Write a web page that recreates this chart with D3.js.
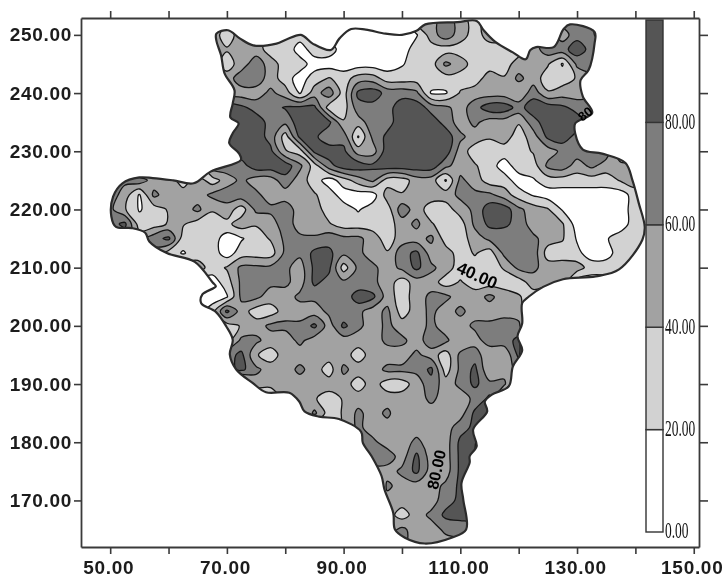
<!DOCTYPE html>
<html>
<head>
<meta charset="utf-8">
<script src="https://cdnjs.cloudflare.com/ajax/libs/d3/7.8.5/d3.min.js"></script>
<style>
  html, body { margin: 0; padding: 0; background: #fff; }
  svg { display: block; filter: blur(0.55px); }
</style>
</head>
<body>
<svg id="viz" width="724" height="577"></svg>
<script>
// tick labels and legend
const xTicks = [50, 60, 70, 80, 90, 100, 110, 120, 130, 140, 150]
const xLabels = [50, 70, 90, 110, 130, 150]
const yTicks = [170, 180, 190, 200, 210, 220, 230, 240, 250]
const levels = [20, 40, 60, 80]
const levelFill = ['#d2d2d2', '#a2a2a2', '#7d7d7d', '#555555']
const legendLevels = [0, 20, 40, 60, 80]
const legendTop = 100
const legendFill = ['#ffffff', '#d2d2d2', '#a2a2a2', '#7d7d7d', '#555555']

// grid origin, every 2.5 units
const gridX0 = 50, gridY0 = 252.5, gridStep = 2.5

// catchment outline, [x, y]
const outline = [
  [68.2,250.2],[70.2,250.8],[72.2,249.4],[74.5,248.2],[78.5,248.5],[80.2,249.2],[82.7,250],[84.7,248.5],[87.8,247.4],
  [89.3,249.4],[91.3,251],[93.8,250.9],[97.2,250.2],[100,250],[102.5,250.7],[104,251.8],[109.5,252.2],[112.8,252.4],
  [114,250.8],[116,248.8],[119,247],[121.2,245.8],[122,247.4],[123,247.9],[126,247.9],[127.7,251],[128.8,251.8],
  [133,250.5],[133,248.5],[132,244],[130.6,242.2],[131,239.4],[132.6,236.6],[129.7,234.8],[129.7,233],[131,230.3],
  [134.3,229.6],[138.3,228],[139.5,225],[140.6,221],[141.6,217],[141.2,214.8],[137.2,209.7],[133.2,208.5],[127.6,208],
  [124.2,206.7],[121.7,205],[120.6,203.9],[120.6,200.4],[119.8,198.2],[120.6,195.8],[119,193],[118.3,189.6],[115.4,188.2],
  [114.2,187],[114.6,185.3],[112.2,182.2],[112.8,179.3],[111.6,177.6],[111.6,176.5],[110.2,173],[110.5,170.2],[111,165],
  [108.5,163.6],[103.9,162.6],[100.5,163.6],[98.8,165],[98.5,167.9],[97,171.9],[96.5,174.2],[94.8,177.6],[93.3,179.9],
  [93,181.8],[89.2,184],[85.8,184.4],[83.3,185.3],[82.4,187],[80.7,188.5],[76.7,188.6],[74.4,190.2],[71.6,192.5],
  [70.5,195.1],[71,197.6],[69.9,199.9],[68.1,202.4],[65.6,203.9],[65.8,205.4],[68.1,206.8],[67.6,207.4],[64.5,211],
  [59.7,212.5],[56.7,214.5],[56,216],[53.7,216.8],[51,217],[50.2,218.8],[50.5,222.2],[52.1,224.5],[55,225.5],[57.3,225.4],
  [60.8,225],[64.3,224.5],[67.2,226.5],[72.4,228.5],[72.1,229.6],[70.4,231.4],[71,233.1],[72,234.8],[70.6,235.8],
  [71,238.2],[71.3,240.5],[69.6,243.4],[69,246.5],[68.2,249]
]

// estimated value at each grid node, one row per y from 252.5 down to 162.5
const surface = [
  [10,10,10,10,10,10,10,50,50,50, 50,50,30,30,30,30,10,10,10,10, 10,50,50,72,50,30,50,10,10,10, 72,72,72,72,10,10,10,10],
  [10,10,10,10,10,10,10,50,30,50, 50,30,30,30,30,10,10,10,10,10, 10,18,50,72,50,30,50,50,50,50, 72,50,72,72,10,10,10,10],
  [10,10,10,10,10,10,10,50,42,50, 50,30,35,10,30,30,10,10,10,10, 10,30,30,30,30,30,30,30,30,50, 72,72,92,72,72,10,10,10],
  [10,10,10,10,10,10,10,50,30,50, 72,50,30,30,10,10,10,10,10,10, 18,30,30,65,50,30,30,30,50,50, 42,18,65,72,10,10,10,10],
  [10,10,10,10,10,10,10,50,50,72, 72,50,30,10,30,42,30,50,50,30, 30,30,30,30,30,30,50,42,65,50, 30,30,42,50,10,10,10,10],
  [10,10,10,10,10,10,10,10,50,50, 50,65,50,18,50,72,30,85,92,72, 72,65,18,18,42,50,50,50,42,72, 42,50,50,50,10,10,10,10],
  [10,10,10,10,10,10,10,92,92,85, 72,72,82,85,85,30,30,72,72,72, 92,92,72,65,50,72,92,92,72,92, 92,85,72,72,10,10,10,10],
  [10,10,10,10,10,10,10,92,92,92, 92,72,65,92,92,85,42,50,72,72, 92,92,92,72,50,65,50,50,42,72, 92,92,92,72,10,10,10,10],
  [10,10,10,10,10,10,10,92,92,92, 92,72,30,85,85,65,72,18,65,85, 92,85,92,92,65,50,42,50,30,50, 85,92,72,72,10,10,10,10],
  [10,10,10,10,10,10,10,10,92,92, 85,85,42,30,85,92,85,50,50,92, 92,92,92,92,50,30,30,30,30,42, 50,65,72,72,72,10,10,10],
  [10,10,10,10,10,10,10,72,72,72, 92,92,92,65,30,72,92,92,85,92, 92,92,92,65,50,42,30,10,30,30, 65,72,50,65,50,50,50,10],
  [72,65,72,50,50,30,50,30,50,65, 50,50,72,50,30,10,30,50,65,30, 30,50,50,18,65,50,30,30,10,18, 30,30,30,30,30,42,50,30],
  [72,50,18,65,50,50,50,65,72,72, 65,50,50,50,42,30,10,10,10,50, 42,50,50,50,65,65,65,50,30,18, 10,10,10,10,10,10,30,30],
  [65,42,18,30,42,50,65,42,50,30, 65,65,72,50,50,30,30,18,30,30, 72,50,30,30,50,65,92,92,65,50, 42,18,10,10,10,10,30,30],
  [72,85,30,30,42,42,30,30,35,50, 42,50,72,50,42,42,30,30,30,30, 50,65,42,30,30,65,85,85,72,50, 50,42,10,10,10,10,30,30],
  [65,65,50,72,85,30,30,30,10,18, 30,42,65,65,65,72,65,65,50,30, 50,50,65,30,30,50,65,65,72,65, 50,42,18,10,18,30,30,30],
  [10,10,10,50,30,18,30,30,10,30, 30,30,65,65,85,85,65,65,50,42, 72,85,50,50,30,42,30,65,72,72, 30,30,25,10,12,30,30,30],
  [10,10,10,10,30,50,50,30,42,65, 65,65,65,50,85,85,30,65,65,50, 65,85,65,50,30,30,30,42,65,65, 50,50,50,30,30,30,30,10],
  [10,10,10,10,10,10,10,10,30,65, 65,65,65,50,85,72,65,65,65,50, 30,50,50,30,42,30,30,30,30,50, 50,50,10,10,10,10,10,10],
  [10,10,10,10,10,10,10,10,18,65, 65,50,50,65,65,65,65,92,85,50, 30,50,65,65,50,50,65,50,42,30, 10,10,10,10,10,10,10,10],
  [10,10,10,10,10,10,10,30,85,50, 30,30,50,50,50,65,65,65,50,65, 30,50,65,50,65,50,50,50,50,10, 10,10,10,10,10,10,10,10],
  [10,10,10,10,10,10,10,10,30,42, 50,65,65,65,85,50,85,65,50,65, 50,50,65,50,50,65,65,72,65,10, 10,10,10,10,10,10,10,10],
  [10,10,10,10,10,10,10,10,30,65, 65,50,50,65,50,50,50,50,50,65, 65,50,72,65,42,50,72,72,85,10, 10,10,10,10,10,10,10,10],
  [10,10,10,10,10,10,10,10,72,85, 42,30,50,50,50,50,50,30,50,50, 50,65,50,30,65,72,42,42,85,10, 10,10,10,10,10,10,10,10],
  [10,10,10,10,10,10,10,10,72,85, 65,50,50,65,50,30,65,50,50,65, 65,65,85,30,65,85,42,50,65,10, 10,10,10,10,10,10,10,10],
  [10,10,10,10,10,10,10,10,10,10, 50,50,42,50,50,50,50,30,50,30, 30,50,72,50,65,85,65,65,10,10, 10,10,10,10,10,10,10,10],
  [10,10,10,10,10,10,10,10,10,10, 10,10,50,50,42,30,42,50,50,50, 50,50,65,50,50,65,85,10,10,10, 10,10,10,10,10,10,10,10],
  [10,10,10,10,10,10,10,10,10,10, 10,10,10,30,65,30,42,65,50,65, 42,50,50,50,50,85,85,10,10,10, 10,10,10,10,10,10,10,10],
  [10,10,10,10,10,10,10,10,10,10, 10,10,10,10,10,10,42,65,50,50, 42,50,50,50,72,85,85,10,10,10, 10,10,10,10,10,10,10,10],
  [10,10,10,10,10,10,10,10,10,10, 10,10,10,10,10,10,10,65,65,50, 50,65,50,50,85,85,10,10,10,10, 10,10,10,10,10,10,10,10],
  [10,10,10,10,10,10,10,10,10,10, 10,10,10,10,10,10,10,10,72,72, 50,85,50,50,85,85,10,10,10,10, 10,10,10,10,10,10,10,10],
  [10,10,10,10,10,10,10,10,10,10, 10,10,10,10,10,10,10,10,50,50, 65,85,50,50,85,85,10,10,10,10, 10,10,10,10,10,10,10,10],
  [10,10,10,10,10,10,10,10,10,10, 10,10,10,10,10,10,10,10,10,65, 50,50,50,65,85,85,10,10,10,10, 10,10,10,10,10,10,10,10],
  [10,10,10,10,10,10,10,10,10,10, 10,10,10,10,10,10,10,10,10,50, 50,50,50,72,85,85,10,10,10,10, 10,10,10,10,10,10,10,10],
  [10,10,10,10,10,10,10,10,10,10, 10,10,10,10,10,10,10,10,10,50, 30,50,65,85,85,85,10,10,10,10, 10,10,10,10,10,10,10,10],
  [10,10,10,10,10,10,10,10,10,10, 10,10,10,10,10,10,10,10,10,50, 65,50,50,65,72,72,10,10,10,10, 10,10,10,10,10,10,10,10],
  [10,10,10,10,10,10,10,10,10,10, 10,10,10,10,10,10,10,10,10,65, 65,50,50,50,50,50,10,10,10,10, 10,10,10,10,10,10,10,10]
]

// labels written on the contour lines
const lineLabels = ['40.00', '80.00', '80']
const lineLabelX = [112.9, 105.9, 131.4]
const lineLabelY = [208.7, 175.3, 236.4]
const lineLabelAngle = [24, -78, -38]
const lineLabelSize = [17, 16, 13]

const svg = d3.select('svg#viz')
const x = d3.scaleLinear().domain([45, 150.9]).range([81, 699])
const y = d3.scaleLinear().domain([162, 252.9]).range([547, 18])
const legendY = d3.scaleLinear().domain([0, legendTop]).range([532, 20])

const cols = surface[0].length, rows = surface.length
const ring = d3.line().curve(d3.curveCatmullRomClosed.alpha(0.5))

// grid node -> pixel
const nodePx = p => [
  x(gridX0 + (p[0] - 0.5) * gridStep),
  y(gridY0 - (p[1] - 0.5) * gridStep)
]
const outlinePath = ring(outline.map(d => [x(d[0]), y(d[1])]))

svg.append('clipPath').attr('id', 'basin').append('path').attr('d', outlinePath)

const map = svg.append('g').attr('clip-path', 'url(#basin)')
map.append('path').attr('d', outlinePath).attr('fill', '#fff')

const contours = d3.contours().size([cols, rows]).thresholds(levels)(surface.flat())

map.selectAll('path.band')
  .data(contours)
  .join('path')
  .attr('class', 'band')
  .attr('d', c => c.coordinates.map(poly => poly.map(r => ring(r.slice(0, -1).map(nodePx))).join('')).join(''))
  .attr('fill', (c, i) => levelFill[i])
  .attr('fill-rule', 'evenodd')
  .attr('stroke', '#151515')
  .attr('stroke-width', 1.3)

svg.append('path')
  .attr('d', outlinePath)
  .attr('fill', 'none')
  .attr('stroke', '#2b2b2b')
  .attr('stroke-width', 2.2)

// labels on the lines
svg.selectAll('text.lineLabel')
  .data(lineLabels)
  .join('text')
  .attr('class', 'lineLabel')
  .attr('transform', (d, i) => `translate(${x(lineLabelX[i])},${y(lineLabelY[i])}) rotate(${lineLabelAngle[i]})`)
  .attr('text-anchor', 'middle')
  .attr('dy', '0.35em')
  .attr('font-family', '"Liberation Sans", sans-serif')
  .attr('font-weight', 'bold')
  .attr('font-size', (d, i) => lineLabelSize[i])
  .attr('fill', '#000')
  .text(d => d)

// legend bar
const legendBands = legendLevels.map((d, i) => [d, i < legendLevels.length - 1 ? legendLevels[i + 1] : legendTop])
svg.append('g').selectAll('rect')
  .data(legendBands)
  .join('rect')
  .attr('x', 646)
  .attr('width', 17)
  .attr('y', d => legendY(d[1]))
  .attr('height', d => legendY(d[0]) - legendY(d[1]))
  .attr('fill', (d, i) => legendFill[i])
  .attr('stroke', '#333')
  .attr('stroke-width', 1.4)

svg.append('g').selectAll('text')
  .data(legendLevels)
  .join('text')
  .attr('transform', d => `translate(665,${legendY(d) - 2}) scale(0.56,1)`)
  .attr('dy', '0.35em')
  .attr('font-family', '"Liberation Serif", serif')
  .attr('font-size', 24)
  .attr('fill', '#111')
  .text(d => d3.format('.2f')(d))

// axes on all four sides
const styleAxis = g => {
  g.selectAll('path.domain').attr('stroke', '#3a3a3a').attr('stroke-width', 1.8)
  g.selectAll('line').attr('stroke', '#3a3a3a').attr('stroke-width', 1.6)
  g.selectAll('text')
    .attr('font-family', '"Liberation Sans", sans-serif')
    .attr('font-weight', 'bold')
    .attr('font-size', 19)
    .attr('letter-spacing', 0.7)
    .attr('fill', '#1c1c1c')
}
const fmt = d => xLabels.includes(d) ? d3.format('.2f')(d) : ''
svg.append('g').attr('transform', 'translate(0,547)')
  .call(d3.axisBottom(x).tickValues(xTicks).tickSize(7).tickSizeOuter(0).tickPadding(7).tickFormat(fmt))
  .call(styleAxis)
  .call(g => g.selectAll('text').attr('dx', -2))
svg.append('g').attr('transform', 'translate(0,18)')
  .call(d3.axisTop(x).tickValues(xTicks).tickSize(7).tickSizeOuter(0).tickFormat(''))
  .call(styleAxis)
svg.append('g').attr('transform', 'translate(81,0)')
  .call(d3.axisLeft(y).tickValues(yTicks).tickSize(7).tickSizeOuter(0).tickPadding(2).tickFormat(d3.format('.2f')))
  .call(styleAxis)
svg.append('g').attr('transform', 'translate(699,0)')
  .call(d3.axisRight(y).tickValues(yTicks).tickSize(9).tickSizeOuter(0).tickFormat(''))
  .call(styleAxis)
</script>
</body>
</html>
